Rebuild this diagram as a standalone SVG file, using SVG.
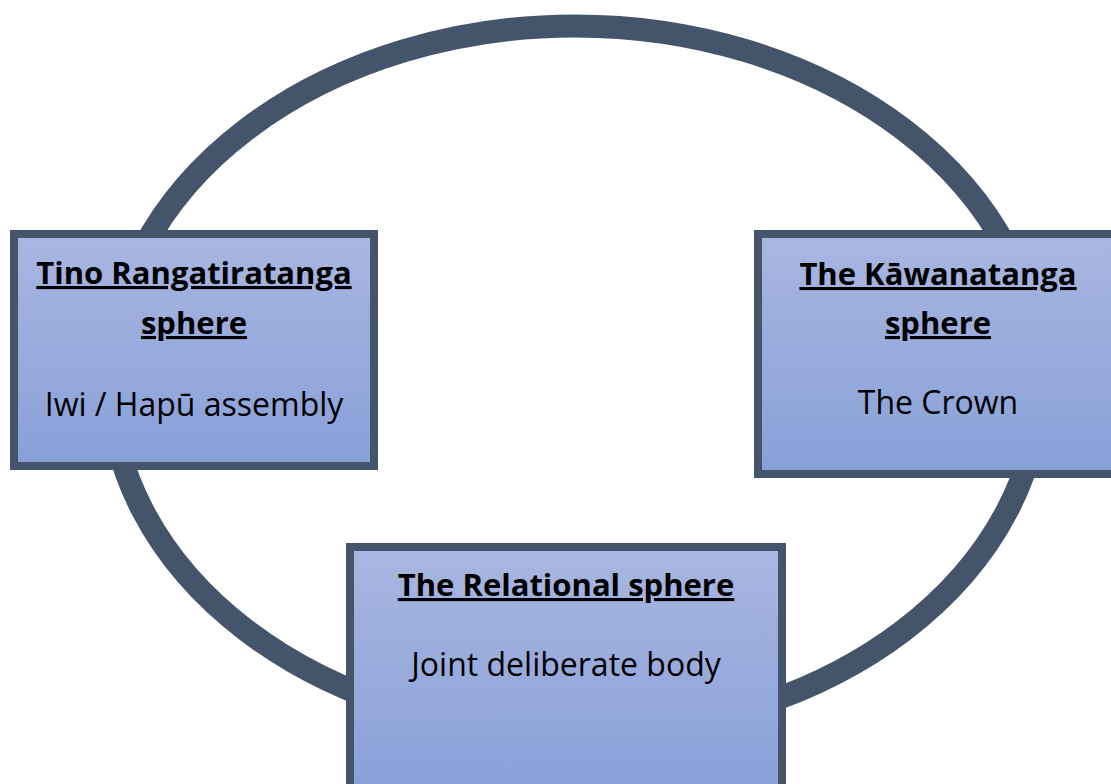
<svg xmlns="http://www.w3.org/2000/svg" width="1111" height="784" viewBox="0 0 1111 784">
<defs>
<linearGradient id="boxFill" x1="0" y1="0" x2="0" y2="1">
<stop offset="0" stop-color="#A9B6E0"/>
<stop offset="1" stop-color="#88A0D8"/>
</linearGradient>
</defs>
<style>
.ring{fill:none;stroke:#44546A;stroke-width:23}
.box{fill:url(#boxFill);stroke:#44546A;stroke-width:8}
.t{font-family:"Open Sans","Noto Sans",sans-serif;font-size:32px;fill:#000;text-anchor:middle}
.h{font-size:31px;font-weight:bold;text-decoration:underline}
</style>
<rect width="1111" height="784" fill="#FFFFFF"/>
<g id="connectors">
<ellipse class="ring" cx="575" cy="380" rx="465" ry="354"/>
</g>
<g id="node-tino">
<rect class="box" x="14" y="234" width="360" height="232"/>
<text class="t h" x="194" y="284">Tino Rangatiratanga</text>
<text class="t h" x="194" y="334">sphere</text>
<text class="t" x="194" y="416">Iwi / Hapū assembly</text>
</g>
<g id="node-kawanatanga">
<rect class="box" x="758" y="234" width="362" height="240"/>
<text class="t h" x="938" y="285">The Kāwanatanga</text>
<text class="t h" x="938" y="334">sphere</text>
<text class="t" x="938" y="414">The Crown</text>
</g>
<g id="node-relational">
<rect class="box" x="350" y="547" width="432" height="250"/>
<text class="t h" x="566" y="596">The Relational sphere</text>
<text class="t" x="566" y="676">Joint deliberate body</text>
</g>
</svg>
